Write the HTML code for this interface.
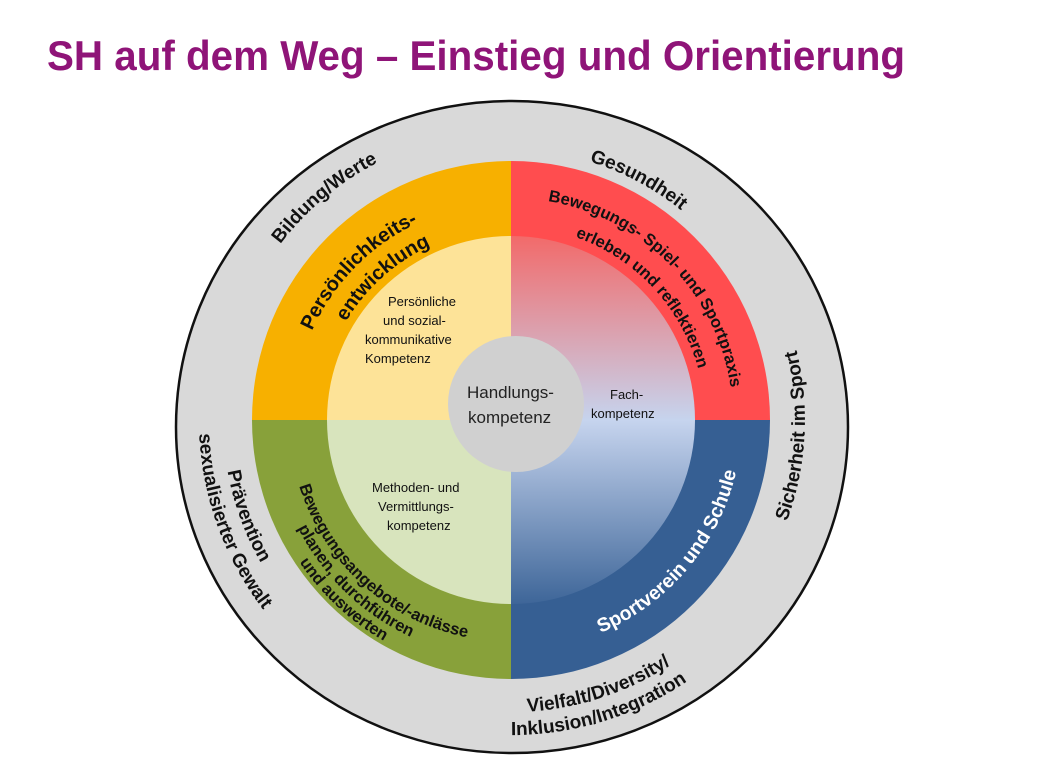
<!DOCTYPE html>
<html><head><meta charset="utf-8"><style>
html,body{margin:0;padding:0;background:#fff;}
svg{display:block;}
text{font-family:"Liberation Sans",sans-serif;}
.b{font-weight:bold;fill:#111;}
</style></head><body>
<svg width="1040" height="780" viewBox="0 0 1040 780" xmlns="http://www.w3.org/2000/svg">
<defs>
<linearGradient id="rg" x1="0" y1="236" x2="0" y2="605" gradientUnits="userSpaceOnUse">
<stop offset="0" stop-color="#f26a6a"/>
<stop offset="0.5" stop-color="#c6d4ee"/>
<stop offset="1" stop-color="#3d6598"/>
</linearGradient>
<path id="p1" d="M225.4,470.4 A290,290 0 0 1 610.2,147.5"/>
<path id="p2" d="M367.9,191.0 A270,270 0 0 1 780.8,410.6"/>
<path id="p3" d="M648.9,679.6 A294,294 0 0 0 666.8,170.7"/>
<path id="p4a" d="M290.4,234.9 A288,288 0 0 0 460.9,703.7"/>
<path id="p4b" d="M272.0,219.4 A312,312 0 0 0 456.7,727.3"/>
<path id="p5a" d="M323.2,643.7 A292,292 0 0 0 798.6,470.7"/>
<path id="p5b" d="M308.5,661.3 A315,315 0 0 0 821.3,474.8"/>
<path id="p6a" d="M300.4,476.4 A218,218 0 0 1 567.5,209.4"/>
<path id="p6b" d="M325.5,469.7 A192,192 0 0 1 560.7,234.5"/>
<path id="p7a" d="M453.5,205.6 A222,222 0 0 1 725.5,477.5"/>
<path id="p7b" d="M460.8,232.6 A194,194 0 0 1 698.4,470.2"/>
<path id="p8" d="M470.9,647.5 A231,231 0 0 0 728.1,341.0"/>
<path id="p9a" d="M294.8,370.0 A222,222 0 0 0 575.8,632.2"/>
<path id="p9b" d="M278.2,366.2 A239,239 0 0 0 580.8,648.5"/>
<path id="p9c" d="M262.6,362.6 A255,255 0 0 0 585.5,663.8"/>
</defs>

<text x="47" y="70" font-size="42" font-weight="bold" fill="#8f1478" textLength="858" lengthAdjust="spacingAndGlyphs">SH auf dem Weg – Einstieg und Orientierung</text>

<ellipse cx="512" cy="427" rx="336" ry="326" fill="#d9d9d9" stroke="#111" stroke-width="2.5"/>

<path d="M511,420 L252,420 A259,259 0 0 1 511,161 Z" fill="#f7b000"/>
<path d="M511,420 L511,161 A259,259 0 0 1 770,420 Z" fill="#ff4d4f"/>
<path d="M511,420 L770,420 A259,259 0 0 1 511,679 Z" fill="#365f93"/>
<path d="M511,420 L511,679 A259,259 0 0 1 252,420 Z" fill="#88a13a"/>

<path d="M511,420 L327,420 A184,184 0 0 1 511,236 Z" fill="#fde398"/>
<path d="M511,420 L511,604 A184,184 0 0 1 327,420 Z" fill="#d8e4bd"/>
<path d="M511,236 A184,184 0 0 1 511,604 Z" fill="url(#rg)"/>

<circle cx="516" cy="404" r="68" fill="#d0d0d0"/>

<text class="b" font-size="19"><textPath href="#p1" startOffset="50%" text-anchor="middle">Bildung/Werte</textPath></text>
<text class="b" font-size="19"><textPath href="#p2" startOffset="50%" text-anchor="middle">Gesundheit</textPath></text>
<text class="b" font-size="19"><textPath href="#p3" startOffset="49%" text-anchor="middle">Sicherheit im Sport</textPath></text>
<text class="b" font-size="19"><textPath href="#p4a" startOffset="50%" text-anchor="middle">Prävention</textPath></text>
<text class="b" font-size="19"><textPath href="#p4b" startOffset="50%" text-anchor="middle">sexualisierter Gewalt</textPath></text>
<text class="b" font-size="19"><textPath href="#p5a" startOffset="48.5%" text-anchor="middle">Vielfalt/Diversity/</textPath></text>
<text class="b" font-size="19"><textPath href="#p5b" startOffset="47.5%" text-anchor="middle">Inklusion/Integration</textPath></text>

<text class="b" font-size="20"><textPath href="#p6a" startOffset="49.5%" text-anchor="middle">Persönlichkeits-</textPath></text>
<text class="b" font-size="20"><textPath href="#p6b" startOffset="52.5%" text-anchor="middle">entwicklung</textPath></text>
<text class="b" font-size="16.5"><textPath href="#p7a" startOffset="50.5%" text-anchor="middle">Bewegungs- Spiel- und Sportpraxis</textPath></text>
<text class="b" font-size="16.5"><textPath href="#p7b" startOffset="51.7%" text-anchor="middle">erleben und reflektieren</textPath></text>
<text font-size="19.5" font-weight="bold" fill="#fff"><textPath href="#p8" startOffset="50%" text-anchor="middle">Sportverein und Schule</textPath></text>
<text class="b" font-size="16.5"><textPath href="#p9a" startOffset="50.8%" text-anchor="middle">Bewegungsangebote/-anlässe</textPath></text>
<text class="b" font-size="16.5"><textPath href="#p9b" startOffset="49.2%" text-anchor="middle">planen, durchführen</textPath></text>
<text class="b" font-size="16.5"><textPath href="#p9c" startOffset="50%" text-anchor="middle">und auswerten</textPath></text>

<g font-size="13" fill="#111">
<text x="388" y="306">Persönliche</text>
<text x="383" y="325">und sozial-</text>
<text x="365" y="344">kommunikative</text>
<text x="365" y="363">Kompetenz</text>
<text x="610" y="399">Fach-</text>
<text x="591" y="418">kompetenz</text>
<text x="372" y="492">Methoden- und</text>
<text x="378" y="511">Vermittlungs-</text>
<text x="387" y="530">kompetenz</text>
</g>
<g font-size="17" fill="#222">
<text x="467" y="398">Handlungs-</text>
<text x="468" y="423">kompetenz</text>
</g>
</svg>
</body></html>
